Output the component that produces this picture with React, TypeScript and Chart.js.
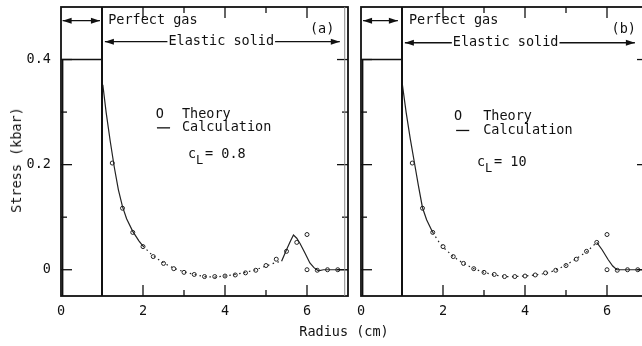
import React, { useEffect, useRef } from "react";
import { Chart, registerables } from "chart.js";
Chart.register(...registerables);

const FONT = "'DejaVu Sans Mono', monospace";
const INK = "#111111";
const FS = 13.5;

// axes
const xTicks = [0, 2, 4, 6];
const xMinorTicks = [1, 3, 5];
const yTicks = [0, 0.2, 0.4];
const yTickLabels = ["0", "0.2", "0.4"];
const yMinorTicks = [0.1, 0.3];

// theory (circles), same in both panels
const theoryR = [1.25, 1.5, 1.75, 2.0, 2.25, 2.5, 2.75, 3.0, 3.25, 3.5, 3.75, 4.0, 4.25, 4.5, 4.75, 5.0, 5.25, 5.5, 5.75, 6.0, 6.0, 6.25, 6.5, 6.75];
const theoryS = [0.203, 0.117, 0.071, 0.044, 0.025, 0.012, 0.002, -0.005, -0.009, -0.013, -0.013, -0.012, -0.01, -0.006, -0.001, 0.008, 0.02, 0.035, 0.052, 0.067, 0.0, -0.001, 0.0, 0.0];

// calculation, c_L = 0.8
const calcAR = [1.02, 1.1, 1.2, 1.3, 1.4, 1.5, 1.6, 1.75, 1.9, 2.0, 2.25, 2.5, 2.75, 3.0, 3.25, 3.5, 3.75, 4.0, 4.25, 4.5, 4.75, 5.0, 5.25, 5.38, 5.5, 5.6, 5.67, 5.75, 5.83, 5.95, 6.07, 6.17, 6.28, 6.4, 7.0];
const calcAS = [0.352, 0.3, 0.245, 0.195, 0.152, 0.12, 0.097, 0.073, 0.055, 0.045, 0.026, 0.013, 0.003, -0.004, -0.009, -0.013, -0.014, -0.012, -0.009, -0.005, 0.0, 0.007, 0.014, 0.016, 0.038, 0.055, 0.066, 0.06, 0.05, 0.032, 0.013, 0.004, -0.002, 0.0, 0.0];

// calculation, c_L = 10
const calcBR = [1.01, 1.1, 1.2, 1.32, 1.4, 1.5, 1.6, 1.75, 1.9, 2.0, 2.25, 2.5, 2.75, 3.0, 3.25, 3.5, 3.75, 4.0, 4.25, 4.5, 4.75, 5.0, 5.25, 5.5, 5.75, 5.88, 6.03, 6.14, 6.24, 7.0];
const calcBS = [0.352, 0.3, 0.25, 0.196, 0.16, 0.118, 0.095, 0.071, 0.053, 0.043, 0.025, 0.012, 0.002, -0.005, -0.01, -0.013, -0.013, -0.012, -0.01, -0.007, -0.001, 0.009, 0.021, 0.034, 0.052, 0.038, 0.019, 0.007, 0.0, 0.0];

// perfect gas region and interface
const gasR = [0.04, 0.04, 1.0];
const gasS = [-0.05, 0.4, 0.4];
const interfaceR = [1.0, 1.0];
const interfaceS = [-0.05, 0.5];

const zip = (xs: number[], ys: number[]) => xs.map((x, i) => ({ x, y: ys[i] }));

const panelA = {
  calcR: calcAR, calcS: calcAS, dashFrom: 2.0, dashTo: 5.38, showY: true,
  label: "(a)", labelX: 6.37, labelY: 0.457,
  gasFrom: 0.04, gasTo: 0.95, gasY: 0.474, gasTextX: 1.15,
  elFrom: 1.07, elTextX: 2.62, elTo: 6.8, elY: 0.434,
  legMarkX: 2.41, legTextX: 2.95, legY1: 0.295, legY2: 0.27, legDash: [2.34, 2.66],
  clX: 3.1, clY: 0.219, clValue: "0.8", extraV: 6.92,
};
const panelB = {
  calcR: calcBR, calcS: calcBS, dashFrom: 1.75, dashTo: 5.75, showY: false,
  label: "(b)", labelX: 6.41, labelY: 0.457,
  gasFrom: 0.05, gasTo: 0.9, gasY: 0.474, gasTextX: 1.17,
  elFrom: 1.07, elTextX: 2.24, elTo: 6.68, elY: 0.432,
  legMarkX: 2.37, legTextX: 2.98, legY1: 0.291, legY2: 0.265, legDash: [2.32, 2.64],
  clX: 2.83, clY: 0.204, clValue: "10", extraV: null,
};

const framePlugin = {
  id: "frame",
  afterDatasetsDraw(chart: any, _args: any, p: any) {
    const { ctx, chartArea: a } = chart;
    const xs = chart.scales.x, ys = chart.scales.y;
    const X = (v: number) => xs.getPixelForValue(v);
    const Y = (v: number) => ys.getPixelForValue(v);
    const line = (x1: number, y1: number, x2: number, y2: number) => {
      ctx.beginPath(); ctx.moveTo(x1, y1); ctx.lineTo(x2, y2); ctx.stroke();
    };
    const head = (x: number, y: number, dir: number) => {
      ctx.beginPath(); ctx.moveTo(x, y); ctx.lineTo(x - dir * 9, y - 3); ctx.lineTo(x - dir * 9, y + 3); ctx.closePath(); ctx.fill();
    };
    ctx.save();
    ctx.strokeStyle = INK; ctx.fillStyle = INK;
    ctx.lineWidth = 1.8;
    ctx.strokeRect(a.left, a.top, a.right - a.left, a.bottom - a.top);
    ctx.lineWidth = 1.3;
    for (const v of xTicks) { if (v <= 0) continue; const px = X(v); line(px, a.bottom, px, a.bottom - 11); line(px, a.top, px, a.top + 11); }
    for (const v of xMinorTicks) { const px = X(v); line(px, a.bottom, px, a.bottom - 6); line(px, a.top, px, a.top + 6); }
    for (const v of yTicks) { const py = Y(v); line(a.left, py, a.left + 11, py); line(a.right, py, a.right - 11, py); }
    for (const v of yMinorTicks) { const py = Y(v); line(a.left, py, a.left + 6, py); line(a.right, py, a.right - 6, py); }
    if (p.extraV != null) {
      ctx.strokeStyle = "#8a8a8a"; ctx.lineWidth = 1;
      line(X(p.extraV), a.top, X(p.extraV), a.bottom);
      ctx.strokeStyle = INK;
    }
    ctx.font = `${FS}px ${FONT}`; ctx.textBaseline = "middle"; ctx.textAlign = "left";
    ctx.lineWidth = 1.3;
    const gy = Y(p.gasY);
    line(X(p.gasFrom), gy, X(p.gasTo), gy); head(X(p.gasFrom), gy, -1); head(X(p.gasTo), gy, 1);
    ctx.fillText("Perfect gas", X(p.gasTextX), gy);
    const ey = Y(p.elY);
    const tx = X(p.elTextX); const tw = ctx.measureText("Elastic solid").width;
    line(X(p.elFrom), ey, tx - 1, ey); head(X(p.elFrom), ey, -1);
    ctx.fillText("Elastic solid", tx, ey);
    line(tx + tw + 1, ey, X(p.elTo), ey); head(X(p.elTo), ey, 1);
    ctx.textAlign = "center";
    ctx.fillText(p.label, X(p.labelX), Y(p.labelY));
    ctx.fillText("O", X(p.legMarkX), Y(p.legY1));
    line(X(p.legDash[0]), Y(p.legY2), X(p.legDash[1]), Y(p.legY2));
    ctx.textAlign = "left";
    ctx.fillText("Theory", X(p.legTextX), Y(p.legY1));
    ctx.fillText("Calculation", X(p.legTextX), Y(p.legY2));
    const cx = X(p.clX), cy = Y(p.clY);
    ctx.fillText("c", cx, cy);
    ctx.font = `12px ${FONT}`; ctx.fillText("L", cx + 8, cy + 6);
    ctx.font = `${FS}px ${FONT}`; ctx.fillText("= " + p.clValue, cx + 17, cy);
    ctx.restore();
  },
};

function makeConfig(p: any): any {
  return {
    type: "line",
    data: {
      datasets: [
        { type: "line", data: zip(interfaceR, interfaceS), borderColor: INK, borderWidth: 2, pointRadius: 0 },
        { type: "line", data: zip(gasR, gasS), borderColor: INK, borderWidth: 1.5, pointRadius: 0 },
        {
          type: "line", data: zip(p.calcR, p.calcS), borderColor: "#222", borderWidth: 1.2, pointRadius: 0, tension: 0,
          segment: { borderDash: (c: any) => (c.p0.parsed.x >= p.dashFrom && c.p1.parsed.x <= p.dashTo ? [1.5, 3.5] : undefined) },
        },
        {
          type: "scatter", data: zip(theoryR, theoryS), showLine: false, pointRadius: 2, pointBorderWidth: 1,
          pointBorderColor: "#222", pointBackgroundColor: "rgba(255,255,255,0)",
        },
      ],
    },
    options: {
      responsive: false, animation: false, events: [],
      layout: { padding: { left: 0, right: 12, top: 7, bottom: 0 } },
      plugins: { legend: { display: false }, tooltip: { enabled: false }, frame: p },
      scales: {
        x: {
          type: "linear", min: 0, max: 7,
          grid: { display: false, drawTicks: false }, border: { display: false },
          afterBuildTicks: (s: any) => { s.ticks = xTicks.map((v) => ({ value: v })); },
          afterFit: (s: any) => { s.height = 50; s.paddingLeft = 0; s.paddingRight = 0; },
          ticks: { font: { family: FONT, size: FS }, color: INK, padding: 7, maxRotation: 0, autoSkip: false, callback: (_v: any, i: number) => String(xTicks[i]) },
        },
        y: {
          type: "linear", min: -0.05, max: 0.5,
          grid: { display: false, drawTicks: false }, border: { display: false },
          afterBuildTicks: (s: any) => { s.ticks = yTicks.map((v) => ({ value: v })); },
          afterFit: (s: any) => { s.width = 61; s.paddingTop = 0; s.paddingBottom = 0; },
          ticks: { display: p.showY, font: { family: FONT, size: FS }, color: INK, padding: 10, autoSkip: false, callback: (_v: any, i: number) => yTickLabels[i] },
        },
      },
    },
    plugins: [framePlugin],
  };
}

export default function App() {
  const refA = useRef<HTMLCanvasElement>(null);
  const refB = useRef<HTMLCanvasElement>(null);
  useEffect(() => {
    const a = new Chart(refA.current!, makeConfig(panelA));
    const b = new Chart(refB.current!, makeConfig(panelB));
    return () => { a.destroy(); b.destroy(); };
  }, []);
  const txt: React.CSSProperties = { position: "absolute", font: `${FS}px ${FONT}`, color: INK, whiteSpace: "nowrap" };
  return (
    <div style={{ position: "fixed", left: 0, top: 0, width: 642, height: 346, overflow: "hidden", background: "#fff" }}>
      <canvas ref={refA} width={360} height={346} style={{ position: "absolute", left: 0, top: 0, width: 360, height: 346 }} />
      <canvas ref={refB} width={360} height={346} style={{ position: "absolute", left: 300, top: 0, width: 360, height: 346 }} />
      <div style={{ ...txt, left: 16, top: 160, transform: "translate(-50%, -50%) rotate(-90deg)" }}>Stress (kbar)</div>
      <div style={{ ...txt, left: 344, top: 331, transform: "translate(-50%, -50%)" }}>Radius (cm)</div>
    </div>
  );
}
